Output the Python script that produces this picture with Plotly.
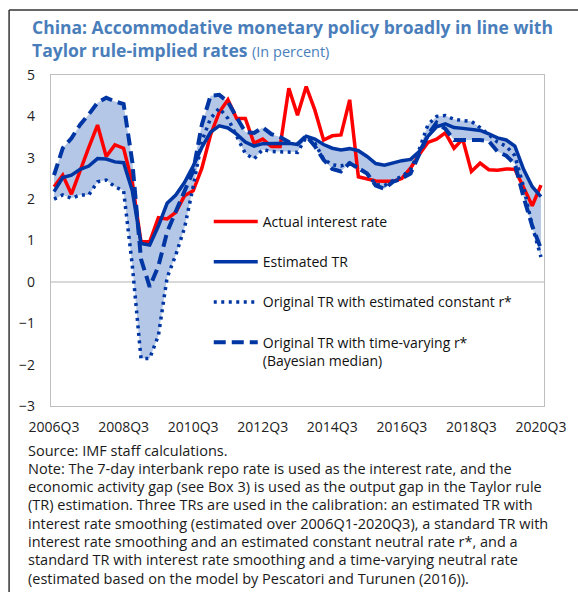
import plotly.graph_objects as go

# ---------------- data ----------------
quarters = [f"{y}Q{q}" for y in range(2006, 2021) for q in range(1, 5)][2:59]  # 2006Q3 .. 2020Q3
tick_labels = ["2006Q3", "2008Q3", "2010Q3", "2012Q3", "2014Q3", "2016Q3", "2018Q3", "2020Q3"]

actual_rate = [2.30, 2.58, 2.12, 2.70, 3.25, 3.79, 3.03, 3.31, 3.23, 2.40,
               0.97, 0.97, 1.55, 1.52, 1.68, 2.08, 2.20, 2.75, 3.55, 4.10,
               4.40, 3.95, 3.95, 3.35, 3.45, 3.27, 3.27, 4.68, 4.03, 4.72,
               4.15, 3.43, 3.53, 3.55, 4.40, 2.54, 2.48, 2.44, 2.43, 2.43,
               2.50, 2.75, 3.08, 3.37, 3.45, 3.60, 3.23, 3.45, 2.67, 2.87,
               2.71, 2.70, 2.73, 2.72, 2.28, 1.84, 2.34]

estimated_tr = [2.18, 2.52, 2.58, 2.72, 2.80, 2.98, 2.97, 2.90, 2.88, 2.20,
                0.93, 0.89, 1.35, 1.90, 2.10, 2.40, 2.80, 3.25, 3.62, 3.77,
                3.72, 3.57, 3.38, 3.28, 3.34, 3.35, 3.35, 3.35, 3.32, 3.52,
                3.45, 3.32, 3.23, 3.19, 3.22, 3.17, 3.03, 2.86, 2.82, 2.88,
                2.93, 2.96, 3.15, 3.52, 3.75, 3.82, 3.73, 3.71, 3.69, 3.66,
                3.58, 3.48, 3.43, 3.28, 2.72, 2.30, 2.06]

tr_constant_rstar = [2.00, 2.10, 2.02, 2.10, 2.10, 2.42, 2.46, 2.30, 2.20, 0.40,
                     -1.85, -1.85, -1.30, 0.10, 0.65, 1.30, 2.30, 3.40, 3.95, 4.20,
                     3.95, 3.50, 3.10, 2.97, 3.20, 3.15, 3.15, 3.15, 3.13, 3.50,
                     3.35, 2.97, 2.83, 2.80, 2.87, 2.75, 2.62, 2.35, 2.33, 2.45,
                     2.55, 2.70, 3.20, 3.80, 4.00, 4.02, 3.93, 3.90, 3.88, 3.73,
                     3.55, 3.38, 3.28, 3.05, 2.30, 1.35, 0.60]

tr_varying_rstar = [2.58, 3.23, 3.47, 3.80, 4.05, 4.33, 4.45, 4.36, 4.30, 2.90,
                    0.55, -0.12, 0.38, 1.20, 1.70, 2.20, 2.68, 3.80, 4.50, 4.52,
                    4.35, 3.98, 3.62, 3.60, 3.73, 3.57, 3.50, 3.38, 3.33, 3.53,
                    3.28, 2.95, 2.73, 2.67, 2.87, 2.75, 2.62, 2.33, 2.25, 2.42,
                    2.50, 2.62, 3.10, 3.55, 3.85, 3.70, 3.43, 3.43, 3.43, 3.43,
                    3.40, 3.15, 3.05, 2.85, 2.05, 1.35, 0.80]

series_names = ["Actual interest rate", "Estimated TR",
                "Original TR with estimated constant r*",
                "Original TR with time-varying r*<br>(Bayesian median)"]

title_line1 = "China: Accommodative monetary policy broadly in line with"
title_line2 = "Taylor rule-implied rates"
title_unit = "(In percent)"

note_lines = [
    "Source: IMF staff calculations.",
    "Note: The 7-day interbank repo rate is used as the interest rate, and the",
    "economic activity gap (see Box 3) is used as the output gap in the Taylor rule",
    "(TR) estimation. Three TRs are used in the calibration: an estimated TR with",
    "interest rate smoothing (estimated over 2006Q1-2020Q3), a standard TR with",
    "interest rate smoothing and an estimated constant neutral rate r*, and a",
    "standard TR with interest rate smoothing and a time-varying neutral rate",
    "(estimated based on the model by Pescatori and Turunen (2016)).",
]

# ---------------- layout helpers ----------------
W, H = 578, 592
L, R, T, B = 51, 27, 75, 186
PW, PH = W - L - R, H - T - B


def px_x(px):
    return (px - L) / PW


def px_y(py):
    return (H - B - py) / PH


FONT = "Open Sans"
BLUE = "#0036A3"
RED = "#FF0000"
FILL = "#B4C7E7"
TITLE_BLUE = "#4A7EBB"

band_low = [min(a, b, c) for a, b, c in zip(estimated_tr, tr_constant_rstar, tr_varying_rstar)]
band_high = [max(a, b, c) for a, b, c in zip(estimated_tr, tr_constant_rstar, tr_varying_rstar)]

fig = go.Figure()
fig.add_trace(go.Scatter(x=quarters, y=band_low, mode="lines", line=dict(width=0, color=FILL),
                         showlegend=False, hoverinfo="skip"))
fig.add_trace(go.Scatter(x=quarters, y=band_high, mode="lines", line=dict(width=0, color=FILL),
                         fill="tonexty", fillcolor=FILL, showlegend=False, hoverinfo="skip"))

fig.add_trace(go.Scatter(x=quarters, y=actual_rate, mode="lines", name=series_names[0],
                         legendgroup="a", line=dict(color=RED, width=3.5)))
fig.add_trace(go.Scatter(x=quarters, y=estimated_tr, mode="lines", name=series_names[1],
                         legendgroup="b", line=dict(color=BLUE, width=3.5)))
fig.add_trace(go.Scatter(x=quarters, y=tr_constant_rstar, mode="lines", name=series_names[2],
                         legendgroup="c", line=dict(color=BLUE, width=3.5, dash="3px,4.5px")))
fig.add_trace(go.Scatter(x=quarters, y=tr_varying_rstar, mode="lines", name=series_names[3],
                         legendgroup="d", line=dict(color=BLUE, width=4, dash="12px,6px")))

annotations = [
    dict(xref="paper", yref="paper", x=px_x(30), y=px_y(13), xanchor="left", yanchor="top",
         align="left", showarrow=False,
         text=f"<b>{title_line1}</b><br><b>{title_line2}</b> <span style='font-size:14.5px'>{title_unit}</span>",
         font=dict(family=FONT, size=17.5, color=TITLE_BLUE)),
]
for k, line in enumerate(note_lines):
    annotations.append(dict(xref="paper", yref="paper", x=px_x(26), y=px_y(450 + 18.3 * k),
                            xanchor="left", yanchor="middle", align="left", showarrow=False,
                            text=line, font=dict(family=FONT, size=14.5, color="#1a1a1a")))

shapes = [
    dict(type="line", xref="paper", yref="paper", x0=px_x(8.5), x1=px_x(8.5), y0=px_y(10), y1=px_y(600),
         line=dict(color="#333333", width=1.5)),
    dict(type="line", xref="paper", yref="paper", x0=px_x(8.5), x1=px_x(600), y0=px_y(10), y1=px_y(10),
         line=dict(color="#333333", width=1.5)),
]

fig.update_layout(
    width=W, height=H,
    margin=dict(l=L, r=R, t=T, b=B, pad=0),
    paper_bgcolor="white", plot_bgcolor="white",
    font=dict(family=FONT, size=14, color="#222222"),
    showlegend=True,
    legend=dict(x=px_x(211), y=px_y(206), xanchor="left", yanchor="top",
                bgcolor="rgba(0,0,0,0)", font=dict(family=FONT, size=14, color="#111111"),
                tracegroupgap=19, itemwidth=44, valign="top", traceorder="grouped"),
    annotations=annotations,
    shapes=shapes,
)
fig.update_xaxes(type="category", range=[-0.35, 56.35], tickmode="array",
                 tickvals=tick_labels, ticktext=tick_labels, showgrid=False,
                 showline=True, mirror=True, linecolor="#BFBFBF", linewidth=1.3,
                 ticks="", ticklabelstandoff=8, tickfont=dict(family=FONT, size=14, color="#222222"))
fig.update_yaxes(range=[-3, 5], dtick=1, showgrid=False, zeroline=True,
                 zerolinecolor="#D9D9D9", zerolinewidth=1.5,
                 showline=True, mirror=True, linecolor="#BFBFBF", linewidth=1.3,
                 ticks="", ticklabelstandoff=12, tickfont=dict(family=FONT, size=14, color="#222222"))

fig.write_html("out.html", config={"displayModeBar": False},
               post_script="document.body.style.margin='0';")
